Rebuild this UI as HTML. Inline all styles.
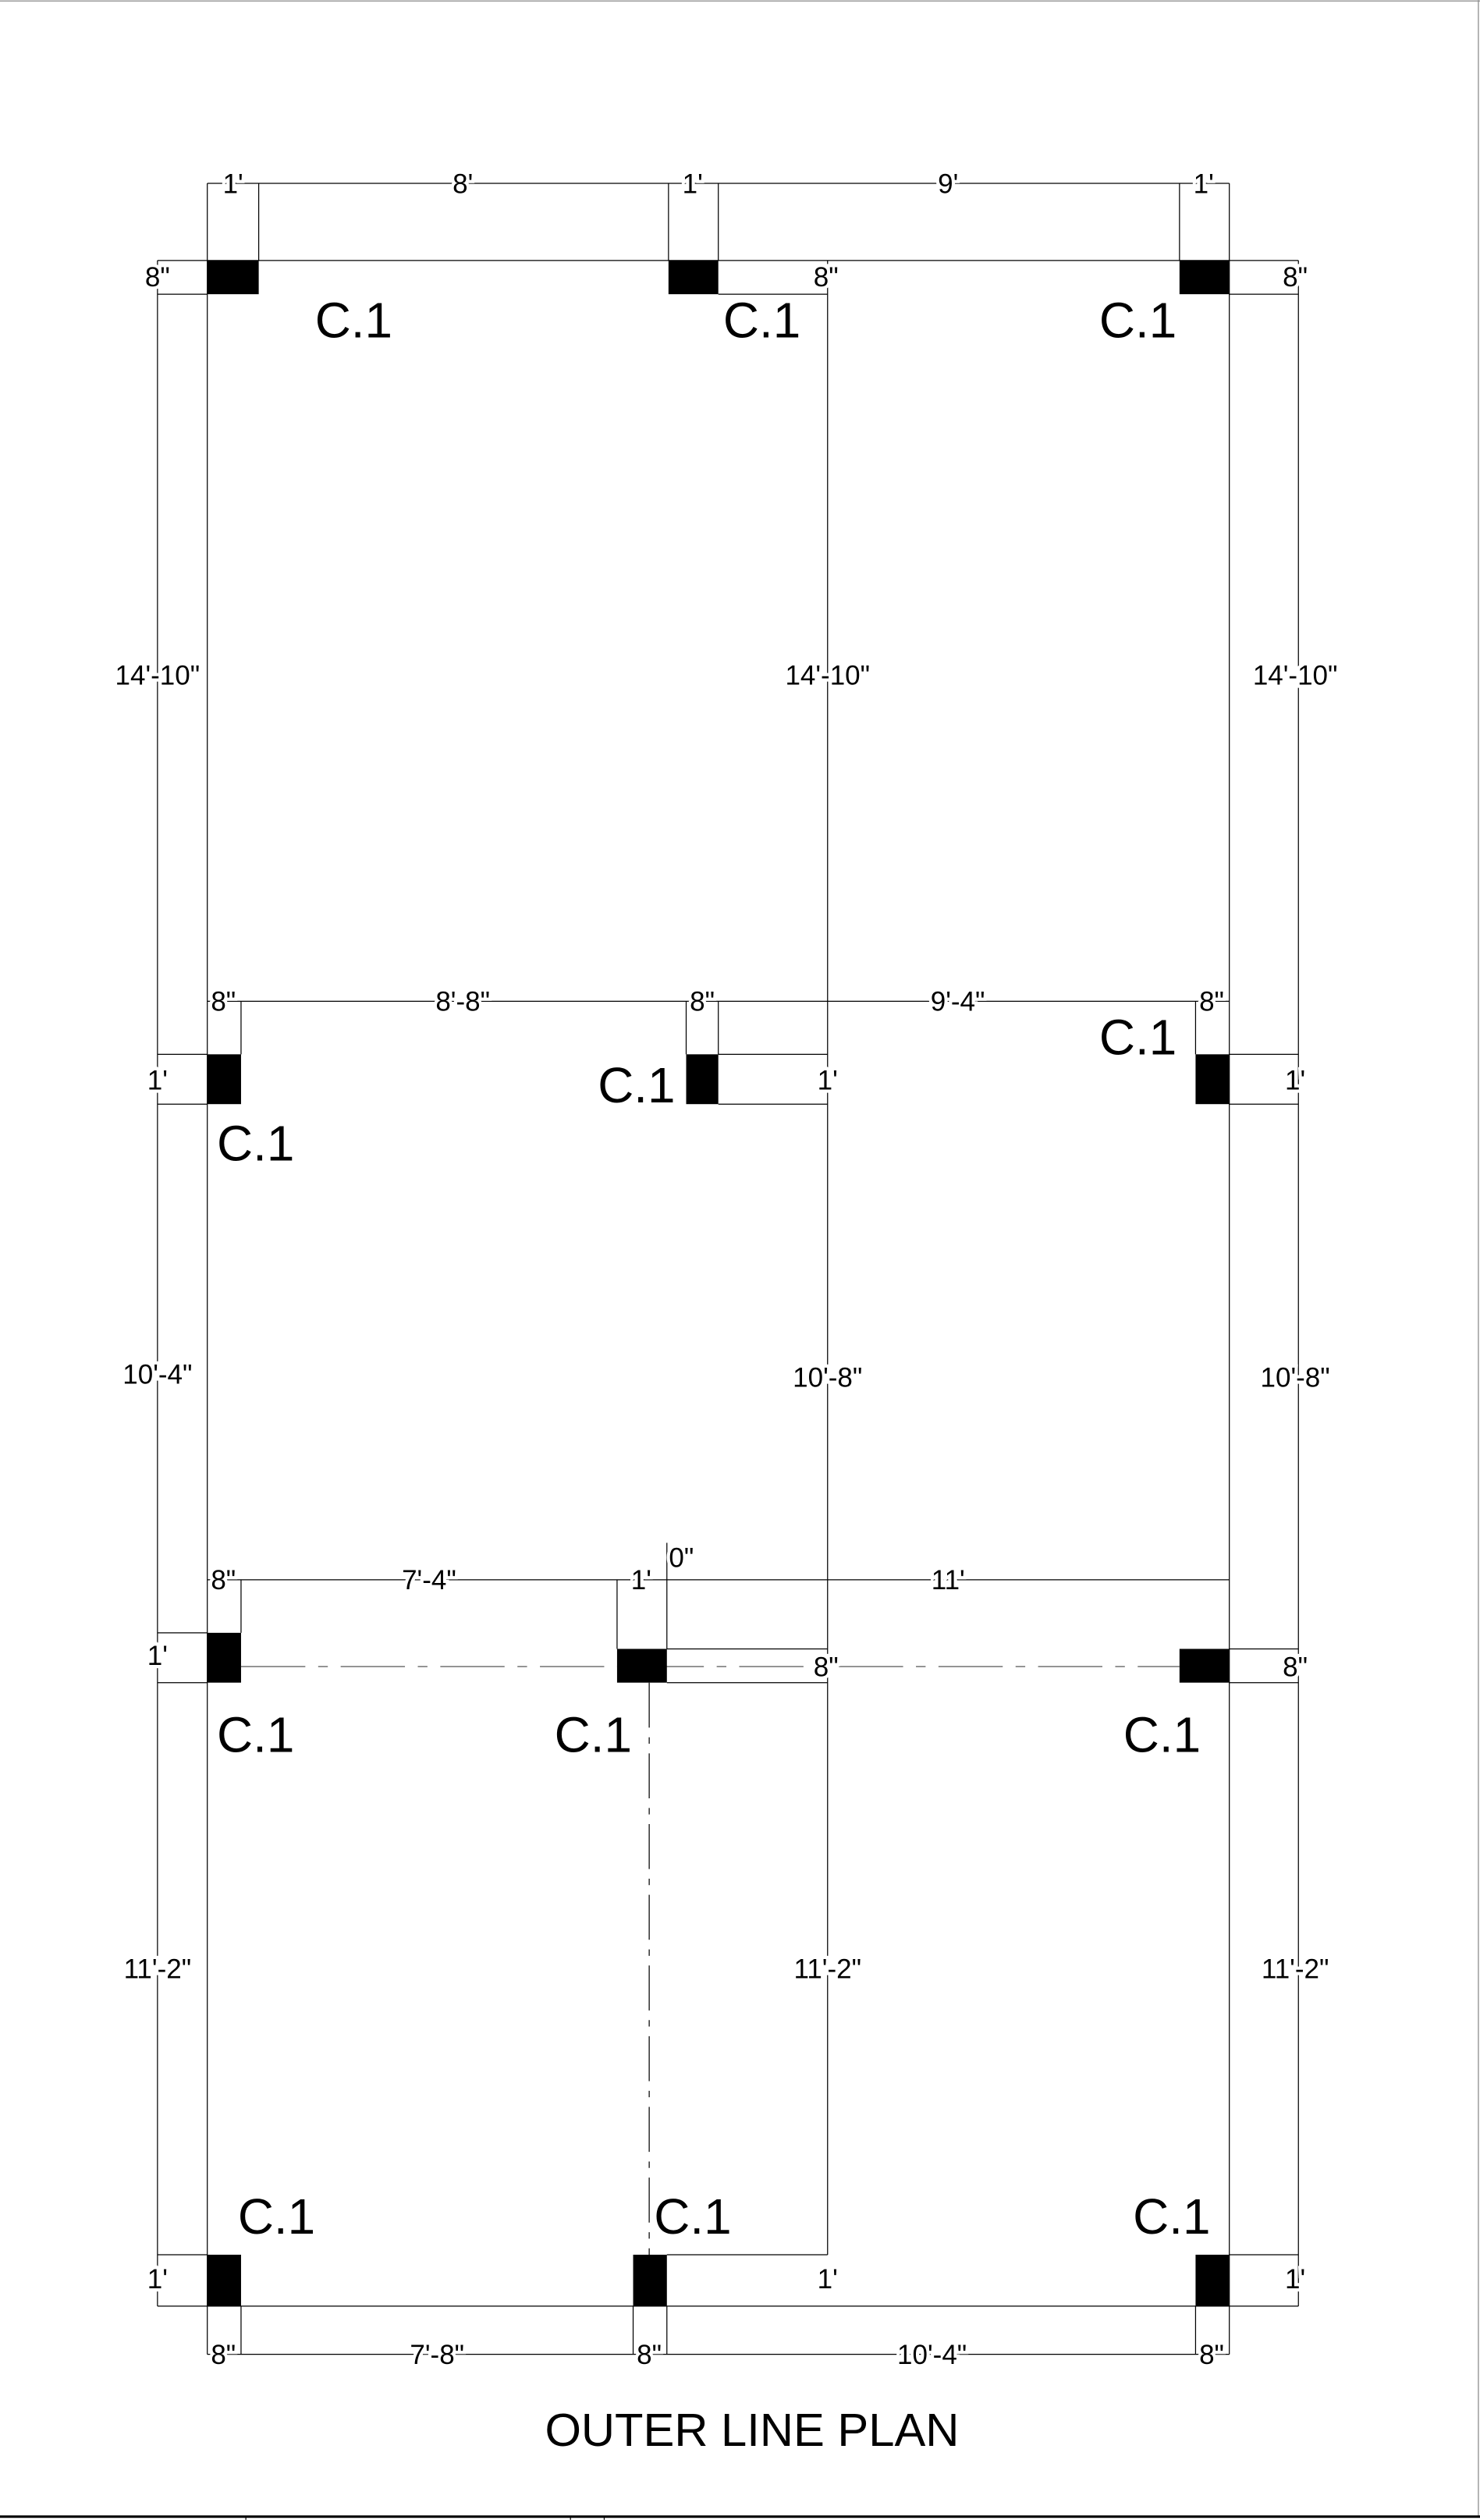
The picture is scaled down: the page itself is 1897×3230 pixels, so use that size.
<!DOCTYPE html>
<html><head><style>html,body{margin:0;padding:0;background:#fff}svg{display:block}</style></head><body>
<svg width="1897" height="3230" viewBox="0 0 921 1568" xmlns="http://www.w3.org/2000/svg" font-family="Liberation Sans, sans-serif">
<g stroke="#000" stroke-width="0.6" fill="none">
<!-- frame -->
<line x1="0" y1="0.5" x2="921" y2="0.5" stroke="#888"/>
<line x1="920" y1="0" x2="920" y2="1566" stroke="#888"/>
<line x1="0" y1="1566" x2="921" y2="1566" stroke-width="1.5"/>
<line x1="153" y1="1566" x2="153" y2="1568"/><line x1="355" y1="1566" x2="355" y2="1568"/><line x1="376" y1="1566" x2="376" y2="1568"/>
<!-- main grid lines -->
<line x1="129" y1="162" x2="129" y2="1435"/>
<line x1="765" y1="114" x2="765" y2="1435"/>
<line x1="515" y1="162" x2="515" y2="1403"/>
<line x1="404" y1="1047" x2="404" y2="1403" stroke-dasharray="28,6,4,6"/>
<line x1="150" y1="1037" x2="734" y2="1037" stroke-dasharray="40,8,6,8" stroke="#555"/>
<!-- top dim -->
<line x1="129" y1="114" x2="765" y2="114"/>
<line x1="129" y1="114" x2="129" y2="162"/><line x1="161" y1="114" x2="161" y2="162"/>
<line x1="416" y1="114" x2="416" y2="162"/><line x1="447" y1="114" x2="447" y2="162"/>
<line x1="734" y1="114" x2="734" y2="162"/>
<!-- row1 -->
<line x1="98" y1="162" x2="808" y2="162"/>
<line x1="98" y1="183" x2="129" y2="183"/>
<line x1="447" y1="183" x2="515" y2="183"/>
<line x1="765" y1="183" x2="808" y2="183"/>
<!-- side dims -->
<line x1="98" y1="162" x2="98" y2="1435"/>
<line x1="808" y1="162" x2="808" y2="1435"/>
<!-- row2 -->
<line x1="129" y1="623" x2="765" y2="623"/>
<line x1="150" y1="623" x2="150" y2="656"/><line x1="427" y1="623" x2="427" y2="656"/>
<line x1="447" y1="623" x2="447" y2="656"/><line x1="744" y1="623" x2="744" y2="656"/>
<line x1="98" y1="656" x2="129" y2="656"/><line x1="98" y1="687" x2="129" y2="687"/>
<line x1="447" y1="656" x2="515" y2="656"/><line x1="447" y1="687" x2="515" y2="687"/>
<line x1="765" y1="656" x2="808" y2="656"/><line x1="765" y1="687" x2="808" y2="687"/>
<!-- row3 -->
<line x1="129" y1="983" x2="765" y2="983"/>
<line x1="150" y1="983" x2="150" y2="1016"/><line x1="384" y1="983" x2="384" y2="1026"/>
<line x1="415" y1="960" x2="415" y2="1026"/>
<line x1="98" y1="1016" x2="129" y2="1016"/><line x1="98" y1="1047" x2="129" y2="1047"/>
<line x1="415" y1="1026" x2="515" y2="1026"/><line x1="415" y1="1047" x2="515" y2="1047"/>
<line x1="765" y1="1026" x2="808" y2="1026"/><line x1="765" y1="1047" x2="808" y2="1047"/>
<!-- row4 -->
<line x1="98" y1="1403" x2="129" y2="1403"/>
<line x1="415" y1="1403" x2="515" y2="1403"/>
<line x1="765" y1="1403" x2="808" y2="1403"/>
<line x1="98" y1="1435" x2="808" y2="1435"/>
<line x1="129" y1="1465" x2="765" y2="1465"/>
<line x1="129" y1="1435" x2="129" y2="1465"/><line x1="150" y1="1435" x2="150" y2="1465"/>
<line x1="394" y1="1435" x2="394" y2="1465"/><line x1="415" y1="1435" x2="415" y2="1465"/>
<line x1="744" y1="1435" x2="744" y2="1465"/><line x1="765" y1="1435" x2="765" y2="1465"/>
</g>
<g fill="#000">
<rect x="129" y="162" width="32" height="21"/><rect x="416" y="162" width="31" height="21"/><rect x="734" y="162" width="31" height="21"/>
<rect x="129" y="656" width="21" height="31"/><rect x="427" y="656" width="20" height="31"/><rect x="744" y="656" width="21" height="31"/>
<rect x="129" y="1016" width="21" height="31"/><rect x="384" y="1026" width="31" height="21"/><rect x="734" y="1026" width="31" height="21"/>
<rect x="129" y="1403" width="21" height="32"/><rect x="394" y="1403" width="21" height="32"/><rect x="744" y="1403" width="21" height="32"/>
</g>
<g font-size="17" text-anchor="middle" fill="#000" stroke="#fff" stroke-width="4" paint-order="stroke">
<text x="145" y="120">1'</text><text x="288" y="120">8'</text><text x="431" y="120">1'</text><text x="590" y="120">9'</text><text x="749" y="120">1'</text>
<text x="98" y="178">8"</text><text x="514" y="178">8"</text><text x="806" y="178">8"</text>
<text x="98" y="426">14'-10"</text><text x="515" y="426">14'-10"</text><text x="806" y="426">14'-10"</text>
<text x="139" y="629">8"</text><text x="288" y="629">8'-8"</text><text x="437" y="629">8"</text><text x="596" y="629">9'-4"</text><text x="754" y="629">8"</text>
<text x="98" y="678">1'</text><text x="515" y="678">1'</text><text x="806" y="678">1'</text>
<text x="98" y="861">10'-4"</text><text x="515" y="863">10'-8"</text><text x="806" y="863">10'-8"</text>
<text x="139" y="989">8"</text><text x="267" y="989">7'-4"</text><text x="399" y="989">1'</text><text x="424" y="975">0"</text><text x="590" y="989">11'</text>
<text x="98" y="1036">1'</text><text x="514" y="1043">8"</text><text x="806" y="1043">8"</text>
<text x="98" y="1231">11'-2"</text><text x="515" y="1231">11'-2"</text><text x="806" y="1231">11'-2"</text>
<text x="98" y="1424">1'</text><text x="515" y="1424">1'</text><text x="806" y="1424">1'</text>
<text x="139" y="1471">8"</text><text x="272" y="1471">7'-8"</text><text x="404" y="1471">8"</text><text x="580" y="1471">10'-4"</text><text x="754" y="1471">8"</text>
</g>
<g font-size="31" fill="#000">
<text x="196" y="210">C.1</text><text x="450" y="210">C.1</text><text x="684" y="210">C.1</text>
<text x="684" y="656">C.1</text><text x="372" y="686">C.1</text><text x="135" y="722">C.1</text>
<text x="135" y="1090">C.1</text><text x="345" y="1090">C.1</text><text x="699" y="1090">C.1</text>
<text x="148" y="1390">C.1</text><text x="407" y="1390">C.1</text><text x="705" y="1390">C.1</text>
<text x="468" y="1522" text-anchor="middle" font-size="29">OUTER LINE PLAN</text>
</g>
</svg>
</body></html>
